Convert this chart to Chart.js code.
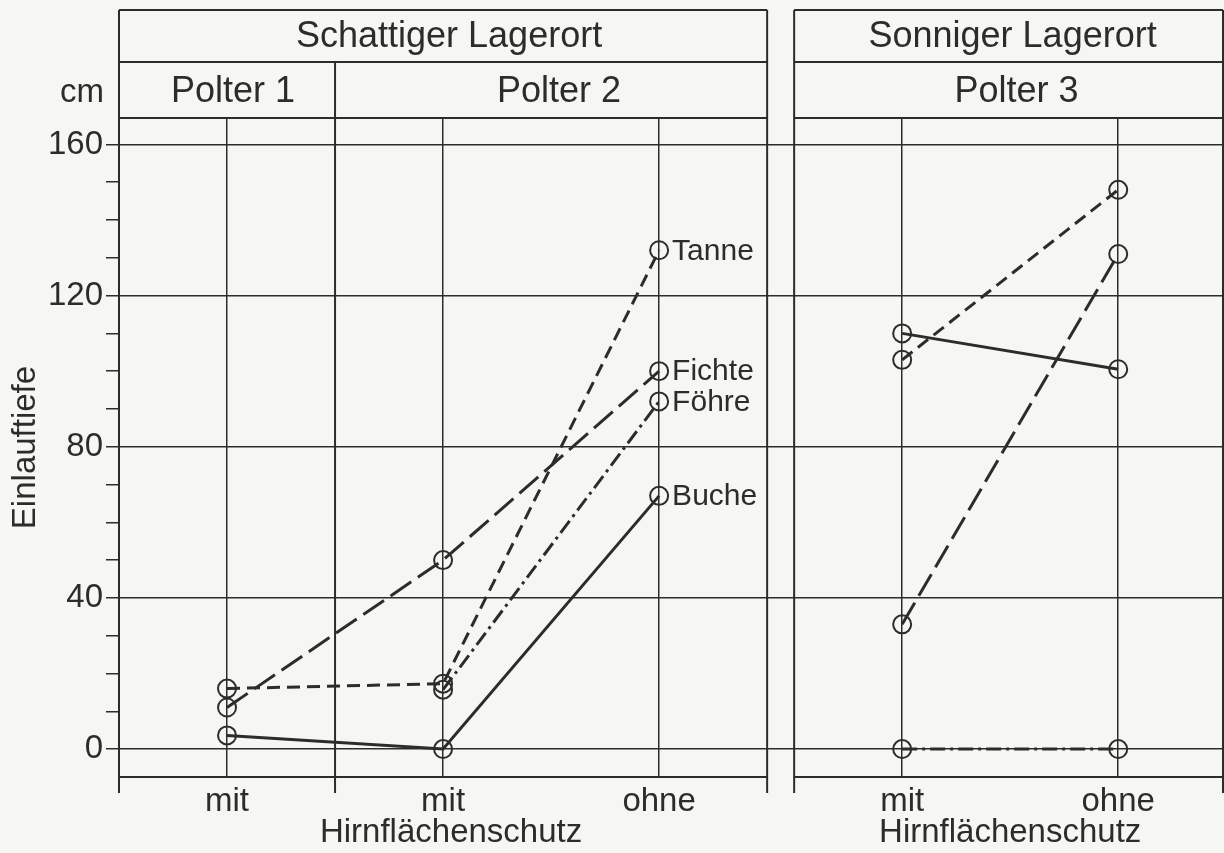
<!DOCTYPE html>
<html lang="de">
<head>
<meta charset="utf-8">
<title>Einlauftiefe</title>
<script src="https://cdn.jsdelivr.net/npm/chart.js@4.4.1/dist/chart.umd.min.js"></script>
<style>
  html, body { margin: 0; padding: 0; background: #f6f6f3; overflow: hidden; }
  canvas { display: block; }
</style>
</head>
<body>
<canvas id="chart" width="1224" height="853"></canvas>
<script>
// === DATEN ===
const leftCats = ['mit', 'mit', 'ohne'];
const rightCats = ['mit', 'ohne'];
const groupNames = ['Schattiger Lagerort', 'Sonniger Lagerort'];
const polterNames = ['Polter 1', 'Polter 2', 'Polter 3'];
const seriesNames = ['Tanne', 'Fichte', 'Föhre', 'Buche'];
const yTickLabels = [0, 40, 80, 120, 160];

// Einlauftiefe in cm (links: Polter 1 mit, Polter 2 mit, Polter 2 ohne; rechts: Polter 3 mit, ohne)
const tanneLeft = [16, 17.3, 132];
const tanneRight = [103, 148];
const fichteLeft = [11, 50, 100];
const fichteRight = [33, 131];
const foehreLeft = [null, 15.7, 92];
const foehreRight = [0, 0];
const bucheLeft = [3.6, 0, 67];
const bucheRight = [110, 100.5];

// === STIL ===
const INK = '#2c2c2c';
const FONT = '"Liberation Sans", Arial, sans-serif';
const GAP = 0.125;                       // Lücke zwischen den beiden Feldern
const RIGHT_START = leftCats.length + GAP;
const X_MAX = 5.11;
const dashes = [[13, 7], [25, 8], [15, 5, 3, 5], []];

const leftData = [tanneLeft, fichteLeft, foehreLeft, bucheLeft];
const rightData = [tanneRight, fichteRight, foehreRight, bucheRight];

const toPoints = (arr, start) => arr.map((v, i) => ({ x: start + i + 0.5, y: v }));

const datasets = [];
seriesNames.forEach((name, s) => {
    [[leftData[s], 0], [rightData[s], RIGHT_START]].forEach(([arr, start]) => {
        datasets.push({
            label: name,
            data: toPoints(arr, start),
            borderColor: INK,
            borderWidth: 3,
            borderDash: dashes[s],
            pointRadius: 9,
            pointHoverRadius: 9,
            pointBorderWidth: 2,
            pointBorderColor: INK,
            pointBackgroundColor: 'rgba(0,0,0,0)',
            fill: false,
            spanGaps: false,
            tension: 0
        });
    });
});

const xTickValues = [
    ...leftCats.map((c, i) => i + 0.5),
    ...rightCats.map((c, i) => RIGHT_START + i + 0.5)
];
const xTickText = [...leftCats, ...rightCats];

// Rahmen, Kopfzeilen, Beschriftungen
const framePlugin = {
    id: 'frame',
    afterDraw(chart) {
        const { ctx, chartArea: ca, scales: { x } } = chart;
        const xp = v => x.getPixelForValue(v);
        const L0 = xp(0), L1 = xp(1), L3 = xp(leftCats.length);
        const R0 = xp(RIGHT_START), R1 = ca.right;
        const top = 10, row = 62, tickBottom = ca.bottom + 16;

        ctx.save();
        ctx.strokeStyle = INK;
        ctx.lineWidth = 2;
        ctx.beginPath();
        [[L0, L3], [R0, R1]].forEach(([a, b]) => {
            [top, row, ca.top, ca.bottom].forEach(y => { ctx.moveTo(a, y); ctx.lineTo(b, y); });
            ctx.moveTo(a, top); ctx.lineTo(a, tickBottom);
            ctx.moveTo(b, top); ctx.lineTo(b, tickBottom);
        });
        ctx.moveTo(L1, row); ctx.lineTo(L1, tickBottom);
        ctx.stroke();

        ctx.fillStyle = INK;
        ctx.textAlign = 'center';
        ctx.textBaseline = 'middle';
        ctx.font = '36px ' + FONT;
        ctx.fillText(groupNames[0], (L0 + L3) / 2 + 6, 37);
        ctx.fillText(groupNames[1], (R0 + R1) / 2 + 4, 37);
        ctx.fillText(polterNames[0], (L0 + L1) / 2 + 6, 92);
        ctx.fillText(polterNames[1], (L1 + L3) / 2 + 8, 92);
        ctx.fillText(polterNames[2], (R0 + R1) / 2 + 8, 92);

        ctx.font = '33px ' + FONT;
        ctx.textAlign = 'right';
        ctx.fillText('cm', ca.left - 15, 93);
        ctx.textAlign = 'center';
        ctx.fillText('Hirnflächenschutz', xp(1.5) + 8, 833);
        ctx.fillText('Hirnflächenschutz', xp(RIGHT_START + 1), 833);

        // Baumarten am letzten Punkt des linken Feldes
        ctx.font = '30px ' + FONT;
        ctx.textAlign = 'left';
        seriesNames.forEach((name, s) => {
            const pts = chart.getDatasetMeta(s * 2).data;
            const p = pts[pts.length - 1];
            ctx.fillText(name, p.x + 13, p.y + 1);
        });
        ctx.restore();
    }
};

new Chart(document.getElementById('chart'), {
    type: 'line',
    data: { datasets },
    options: {
        responsive: false,
        animation: false,
        events: [],
        layout: { autoPadding: false, padding: { top: 118, right: 1, left: 0, bottom: 0 } },
        plugins: { legend: { display: false }, tooltip: { enabled: false } },
        scales: {
            x: {
                type: 'linear',
                min: 0,
                max: X_MAX,
                afterBuildTicks: s => { s.ticks = xTickValues.map(v => ({ value: v })); },
                afterFit: s => { s.height = 76; s.paddingLeft = 0; s.paddingRight = 0; },
                ticks: {
                    autoSkip: false,
                    maxRotation: 0,
                    padding: 5,
                    color: INK,
                    font: { family: FONT, size: 33 },
                    callback: (v, i) => xTickText[i]
                },
                grid: { color: INK, lineWidth: 1.5, drawTicks: false },
                border: { display: false }
            },
            y: {
                min: -7.4,
                max: 167,
                afterBuildTicks: s => {
                    const t = [];
                    for (let v = 0; v <= 160; v += 10) t.push({ value: v });
                    s.ticks = t;
                },
                afterFit: s => { s.width = 119; s.paddingTop = 0; s.paddingBottom = 0; },
                ticks: {
                    autoSkip: false,
                    padding: 3,
                    color: INK,
                    font: { family: FONT, size: 33 },
                    callback: v => yTickLabels.includes(v) ? String(v) : ''
                },
                grid: {
                    color: c => (c.tick && yTickLabels.includes(c.tick.value)) ? INK : 'rgba(0,0,0,0)',
                    lineWidth: 1.5,
                    tickColor: INK,
                    tickWidth: 1.5,
                    tickLength: 13
                },
                border: { display: true, color: INK, width: 2 },
                title: {
                    display: true,
                    text: 'Einlauftiefe',
                    color: INK,
                    font: { family: FONT, size: 33 },
                    padding: { top: 6, bottom: 4 }
                }
            }
        }
    },
    plugins: [framePlugin]
});
</script>
</body>
</html>
